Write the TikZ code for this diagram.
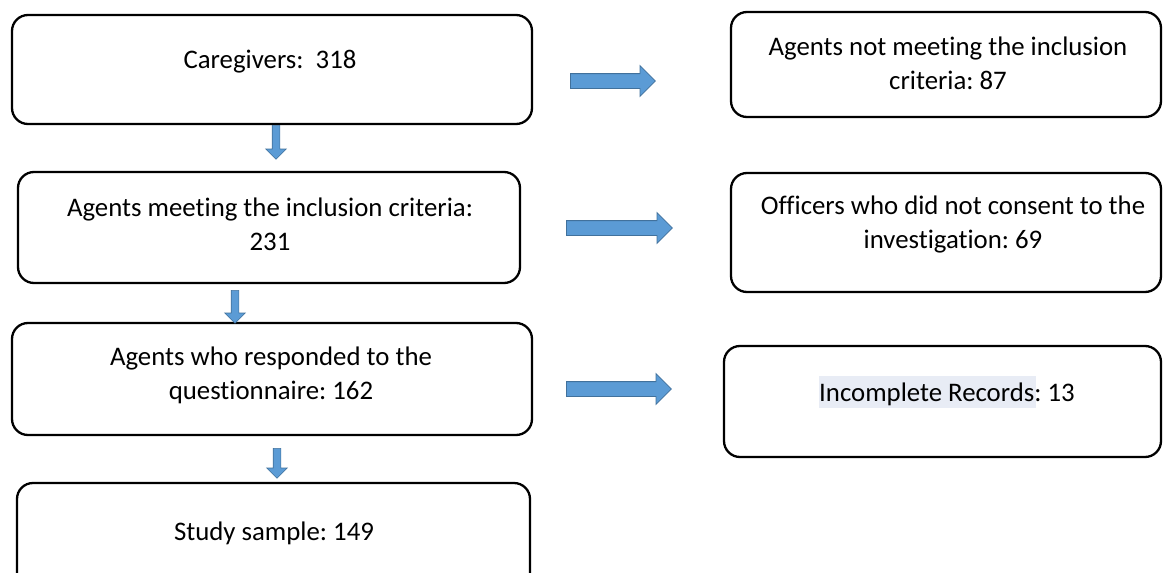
\documentclass[tikz,border=0pt]{standalone}
\usepackage{fontspec}
\setmainfont{Carlito}[Ligatures=NoCommon]
\usetikzlibrary{shapes.arrows}
\definecolor{arrfill}{HTML}{5B9BD5}
\definecolor{arrdraw}{HTML}{41719C}
\definecolor{hilite}{HTML}{E8ECF5}
\tikzset{
  box/.style={draw=black, line width=2.3pt, rounded corners=16pt, inner sep=0pt},
  txt/.style={align=center, inner sep=0pt, font=\fontsize{26.8}{34.5}\selectfont},
  rarrow/.style={single arrow, fill=arrfill, draw=arrdraw, line width=0.8pt,
    inner sep=7pt, single arrow head extend=8pt, minimum height=#1, anchor=west},
  darrow/.style={single arrow, shape border rotate=270, fill=arrfill, draw=arrdraw, line width=0.6pt,
    inner sep=3.5pt, single arrow head extend=6.5pt, minimum height=#1, anchor=north},
}
\begin{document}
\frenchspacing
\begin{tikzpicture}[x=1pt,y=-1pt]
\useasboundingbox (0,0) rectangle (1163,573);
\clip (0,0) rectangle (1163,573);
% left column
\node[box, minimum width=520pt, minimum height=109pt] (b1) at (272,69.5) {};
\node[box, minimum width=502pt, minimum height=111pt] (b2) at (269,227.5) {};
\node[box, minimum width=520pt, minimum height=112pt] (b3) at (272,379) {};
\node[box, minimum width=513pt, minimum height=110pt] (b4) at (273.5,538) {};
\node[txt] (t1) at (270,61.5) {Caregivers:\ \ 318};
\node[txt] (t2) at (270,224.5) {Agents meeting the inclusion criteria:\\231};
\node[txt] (t3) at (271,375.5) {Agents who responded to the\\questionnaire: 162};
\node[txt] (t4) at (274,533.5) {Study sample: 149};
% right column
\node[box, minimum width=430pt, minimum height=105pt] (r1) at (946,64.5) {};
\node[box, minimum width=430pt, minimum height=119pt] (r2) at (946,232.5) {};
\node[box, minimum width=437pt, minimum height=111pt] (r3) at (942.5,401.5) {};
\node[txt] (t5) at (948,63.5) {Agents not meeting the inclusion\\criteria: 87};
\node[txt] (t6) at (953,224.5) {Officers who did not consent to the\\investigation: 69};
\node[txt] (t7) at (947,394.5) {\phantom{Incomplete Records: 13}};
\node[fill=hilite, inner sep=0pt, minimum width=217pt, minimum height=32pt, anchor=west] (hl) at (t7.west |- 0,392) {};
\node[txt] (t7b) at (t7) {Incomplete Records: 13};
% right arrows
\node[rarrow=85pt] (a1) at (570,81) {};
\node[rarrow=106pt] (a2) at (566,228) {};
\node[rarrow=105pt] (a3) at (566,389) {};
% down arrows
\node[darrow=34pt] (d1) at (276,125) {};
\node[darrow=33pt] (d2) at (235,290) {};
\node[darrow=30pt] (d3) at (277,448) {};
\end{tikzpicture}
\end{document}
